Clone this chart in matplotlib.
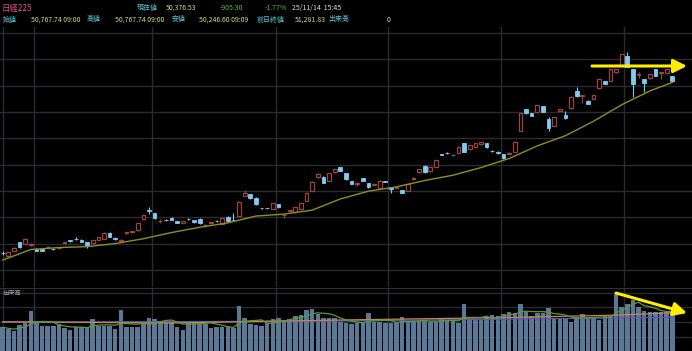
## load libraries
import numpy as np
import pandas as pd
import matplotlib
matplotlib.use('Agg')
import matplotlib.pyplot as plt

plt.rcParams['font.family'] = ['Noto Sans CJK JP', 'DejaVu Sans']

## Daily OHLC (Nikkei 225, 2025/05/23 - 2025/11/14)
opens = [37320, 37080, 37450, 38110, 37990, 37940, 37620, 37600, 37730, 37620,
         37640, 38040, 38280, 38380, 38280, 38110, 38077, 38280, 38380, 38840,
         38400, 38230, 38820, 38890, 39040, 39860, 40530, 40310, 39710, 39820,
         39980, 39730, 39600, 39900, 39800, 39900, 39400, 39550, 39750, 39500,
         40050, 39820, 40130, 41620, 41750, 41490, 40710, 40700, 40640, 41010,
         40160, 40490, 40380, 40610, 41270, 42030, 43040, 43090, 42790, 43420,
         43800, 43350, 42760, 42570, 42970, 42590, 42490, 42250, 42730, 42280,
         42260, 42080, 42030, 42950, 43420, 43900, 43520, 43850, 44780, 44900,
         44720, 44870, 45620, 45170, 45320, 45550, 45620, 45060, 44990, 44810,
         44850, 44990, 46580, 48230, 47900, 47980, 48460, 47450, 46940, 48080,
         47770, 48280, 49600, 49250, 48860, 48990, 49800, 50360, 50380, 51020,
         51570, 52250, 51240, 50840, 50480, 50560, 51240, 50970, 50940, 50767.74]
highs = [37450, 37400, 37750, 38150, 38400, 38080, 37650, 37640, 37850, 37680,
         37740, 38130, 38320, 38480, 38330, 38150, 38320, 38520, 38880, 38880,
         38500, 38330, 38900, 38980, 39580, 40200, 40810, 40340, 39900, 39860,
         40000, 39750, 39760, 39980, 39830, 39930, 39480, 39680, 39800, 39960,
         40080, 40330, 41220, 42080, 41780, 41520, 40740, 40740, 41100, 41040,
         40250, 40580, 40800, 41100, 41900, 42780, 43400, 43120, 43380, 43700,
         43830, 43380, 42790, 42660, 43000, 42620, 42570, 42820, 42760, 42310,
         42340, 42110, 42560, 43100, 43670, 44000, 43830, 44390, 44820, 44950,
         44800, 45400, 45650, 45530, 45650, 45730, 45650, 45100, 45020, 44840,
         44930, 45780, 47950, 48260, 47930, 48560, 48490, 47640, 47670, 48260,
         48100, 49190, 49880, 49300, 48890, 49320, 50510, 50390, 51300, 51300,
         52420, 52580, 51270, 51060, 50510, 50890, 51270, 51060, 51270, 50767.74]
lows = [37150, 37050, 37420, 37700, 37950, 37860, 37420, 37420, 37650, 37540,
        37600, 38000, 38150, 38300, 38100, 37650, 38050, 38250, 38350, 38480,
        38300, 38150, 38750, 38850, 39000, 39820, 40260, 39900, 39600, 39750,
        39780, 39580, 39580, 39780, 39600, 39520, 39250, 39520, 39680, 39470,
        39720, 39700, 40100, 41600, 41420, 40960, 40640, 40650, 40610, 40700,
        39930, 40450, 40350, 40580, 41240, 42000, 43000, 42600, 42760, 43390,
        43500, 42860, 42530, 42400, 42760, 42200, 42450, 42220, 42660, 41830,
        42220, 41850, 42000, 42850, 43390, 43390, 43490, 43820, 44700, 44820,
        44680, 44840, 44960, 45140, 45290, 45520, 45290, 44990, 44840, 44460,
        44810, 44960, 46550, 47870, 47670, 47950, 48000, 46560, 46910, 48050,
        47450, 48250, 49160, 48660, 48580, 48960, 49770, 50100, 50350, 50990,
        51540, 51410, 49160, 50560, 49540, 50530, 50730, 50480, 50910, 50246.60]
closes = [37280, 37350, 37700, 37730, 38360, 37980, 37450, 37450, 37770, 37590,
          37700, 38100, 38180, 38350, 38130, 37910, 38280, 38490, 38840, 38510,
          38370, 38270, 38860, 38930, 39550, 40160, 40500, 39930, 39750, 39790,
          39800, 39600, 39730, 39870, 39630, 39550, 39440, 39650, 39720, 39930,
          39750, 39790, 41190, 41830, 41450, 40990, 40680, 40680, 41070, 40760,
          40200, 40530, 40760, 41070, 41830, 42710, 43290, 42630, 43350, 43670,
          43540, 42890, 42560, 42610, 42790, 42330, 42530, 42790, 42700, 42130,
          42300, 41880, 42530, 42990, 43640, 43420, 43800, 44360, 44750, 44870,
          44760, 45370, 44990, 45500, 45620, 45700, 45320, 45030, 44870, 44490,
          44890, 45750, 47900, 47900, 47700, 48530, 48030, 46810, 47640, 48230,
          47520, 49160, 49240, 49290, 48610, 49290, 50480, 50130, 51270, 51270,
          52380, 51440, 50130, 50880, 50180, 50860, 50760, 51010, 51240, 50376.53]

## Volume (million shares)
volumes = [2108, 2028, 1972, 2200, 2292, 2760, 2292, 2172, 2160, 2160,
           2240, 2068, 2000, 2132, 2132, 2132, 2428, 2160, 2160, 2160,
           2040, 2800, 2108, 2108, 2108, 2268, 2492, 2428, 2360, 2372,
           2332, 2108, 2000, 2372, 2372, 2372, 2240, 2068, 2132, 2132,
           2108, 2068, 2960, 2468, 2228, 2200, 2172, 2292, 2428, 2492,
           2400, 2452, 2560, 2600, 2800, 2840, 2628, 2492, 2492, 2468,
           2332, 2268, 2228, 2268, 2332, 2668, 2332, 2332, 2292, 2268,
           2268, 2508, 2332, 2360, 2360, 2360, 2332, 2332, 2440, 2400,
           2400, 2268, 3028, 2428, 2400, 2400, 2508, 2600, 2560, 2628,
           2708, 2668, 3028, 2732, 2560, 2668, 2692, 2892, 2468, 2468,
           2468, 2332, 2532, 2628, 2508, 2508, 2400, 2560, 2560, 3440,
           2932, 3040, 3200, 2932, 2760, 2732, 2732, 2732, 2732, 2732]

## 25-day price moving average, read every 5 sessions
ma_idx = [0, 5, 10, 15, 20, 25, 30, 35, 40, 45, 50, 55, 60, 65, 70, 75, 80, 85,
          90, 95, 100, 105, 110, 115, 119]
ma_vals = [36760, 37560, 37710, 37780, 38010, 38380, 38850, 39250, 39580, 40100,
           40250, 40550, 41400, 41990, 42320, 42800, 43200, 43780, 44470, 45430,
           46200, 47300, 48550, 49600, 50250]

## volume moving averages (longer ones)
vma25_idx = [0, 30, 60, 90, 110, 119]
vma25_vals = [2332, 2280, 2400, 2500, 2600, 2692]
vma75_idx = [0, 60, 119]
vma75_vals = [2308, 2360, 2508]

## month boundaries (session index)
month_lines = [0, 5.5, 26.5, 48.5, 68.5, 88.5, 110.5]
price_grid = [36000, 38000, 40000, 42000, 44000, 46000, 48000, 50000, 52000, 54000]
vol_grid = [1720, 2320, 2920, 3480]

df = pd.DataFrame({'open': opens, 'high': highs, 'low': lows, 'close': closes, 'volume': volumes})
df['vma5'] = df['volume'].rolling(5, min_periods=1).mean()
x = np.arange(len(df))
up = df['close'] >= df['open']

BG = '#000000'
GRID = '#2a2a30'
UPC = '#9c4444'
DNC = '#80ccf0'

W, H = 692, 351
fig = plt.figure(figsize=(W / 100, H / 100), dpi=100, facecolor=BG)
ax = fig.add_axes([0, (H - 287) / H, 1, 260 / H], facecolor=BG)
axv = fig.add_axes([0, 0, 1, 63 / H], facecolor=BG)

for a in (ax, axv):
    a.set_xlim(-0.48, 122.5)
    a.tick_params(left=False, bottom=False, labelleft=False, labelbottom=False)
    for s in a.spines.values():
        s.set_visible(False)
    for m in month_lines:
        a.axvline(m, color=GRID, lw=1, zorder=0)

## price panel
ax.set_ylim(34714, 54456)
for g in price_grid:
    ax.axhline(g, color=GRID, lw=1, zorder=0)

ax.vlines(x[up], df['low'][up], df['high'][up], color=UPC, lw=0.8, zorder=2)
ax.vlines(x[~up], df['low'][~up], df['high'][~up], color=DNC, lw=0.8, zorder=2)
body_lo = np.minimum(df['open'], df['close'])
body_h = np.maximum(np.abs(df['close'] - df['open']), 25)
ax.bar(x[up], body_h[up], bottom=body_lo[up], width=0.66, facecolor=BG,
       edgecolor=UPC, lw=0.9, zorder=3)
ax.bar(x[~up], body_h[~up], bottom=body_lo[~up], width=0.66, facecolor=DNC,
       edgecolor=DNC, lw=0.6, zorder=3)
ax.plot(ma_idx, ma_vals, color='#8f8f22', lw=1, zorder=4)

## volume panel
axv.set_ylim(1160, 3680)
for g in vol_grid:
    axv.axhline(g, color=GRID, lw=1, zorder=0)
axv.axhline(3680, color='#3a3a42', lw=1.2, zorder=0)
axv.bar(x, df['volume'], width=0.8, color='#5b7896', zorder=2)
axv.plot(vma75_idx, vma75_vals, color='#5858c0', lw=0.9, zorder=3)
axv.plot(vma25_idx, vma25_vals, color='#c8884a', lw=0.9, zorder=3)
axv.plot(x, df['vma5'], color='#5a9a3a', lw=0.9, zorder=3)
fig.text(2 / W, 1 - 293 / H, '出来高', fontsize=4.5, color='#a0a0a0', va='center')

## header
hdr = [
    (2, '日経225', '#e0508a', 6), (137, '現在値', '#5cc8d8', 5), (166, '50,376.53', '#d8d880', 5),
    (220, '-905.30', '#40c040', 5), (265, '-1.77%', '#40c040', 5), (292, '25/11/14  15:45', '#e0e0d0', 5),
]
for xp, t, c, fs in hdr:
    fig.text(xp / W, 1 - 8 / H, t, color=c, fontsize=fs, va='center')
row2 = [
    (3, '始値', '#5cc8d8'), (31, '50,767.74 09:00', '#d8d880'), (87, '高値', '#5cc8d8'),
    (115, '50,767.74 09:00', '#d8d880'), (172, '安値', '#5cc8d8'), (199, '50,246.60 09:09', '#d8d880'),
    (257, '前日終値', '#5cc8d8'), (295, '51,281.83', '#d8d880'), (328, '出来高', '#5cc8d8'),
    (387, '0', '#e0e0e0'),
]
for xp, t, c in row2:
    fig.text(xp / W, 1 - 19.5 / H, t, color=c, fontsize=5, va='center')

## yellow arrows
arrow = dict(arrowstyle='-|>,head_length=0.8,head_width=0.4', lw=2.2, color='#ffee00',
             mutation_scale=10, shrinkA=0, shrinkB=0)
fig.add_artist(plt.Annotation('', xy=(687, H - 66), xytext=(592, H - 66),
                              xycoords='figure pixels', arrowprops=arrow))
fig.add_artist(plt.Annotation('', xy=(687, H - 313), xytext=(616, H - 293),
                              xycoords='figure pixels', arrowprops=arrow))

plt.savefig('out.png', dpi=100, facecolor=BG)
